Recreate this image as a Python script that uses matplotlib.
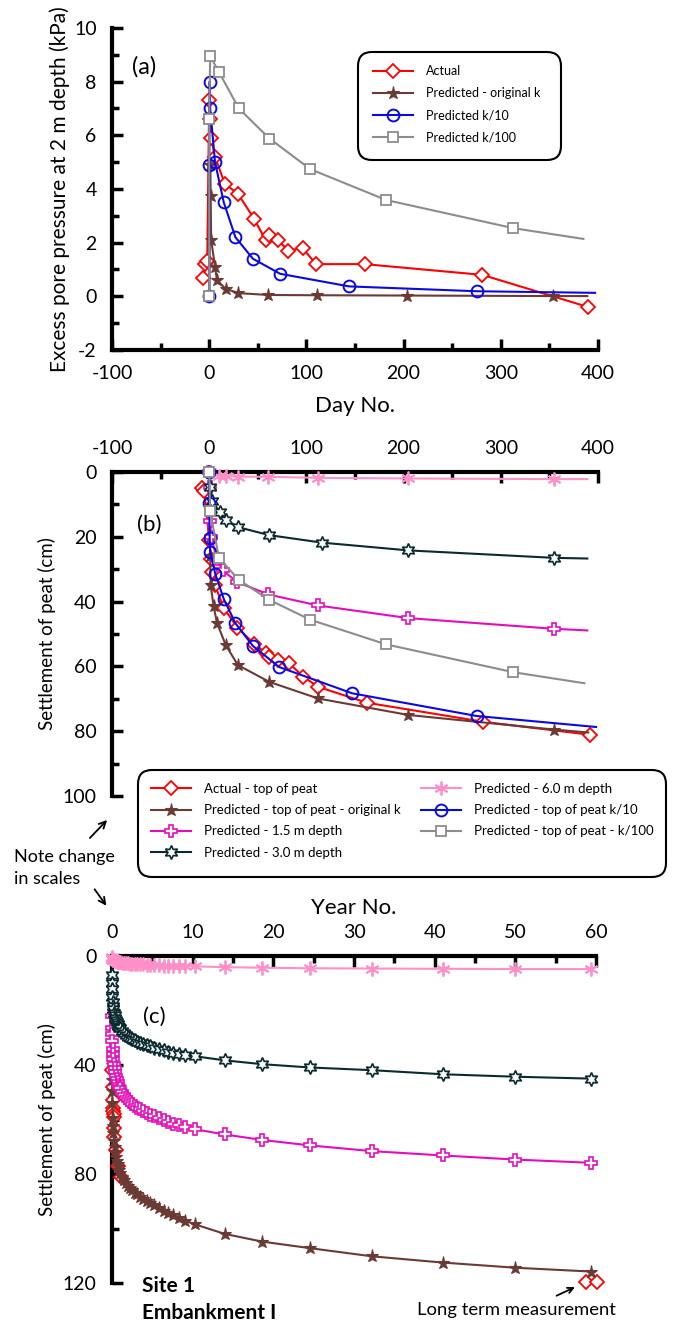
import numpy as np
import matplotlib
matplotlib.use("Agg")
import matplotlib.pyplot as plt
from matplotlib.patches import FancyBboxPatch, FancyArrowPatch
from matplotlib.ticker import MultipleLocator

plt.rcParams["font.family"] = ["Lato", "DejaVu Sans"]
plt.rcParams["axes.unicode_minus"] = False

W, H = 675, 1324

# ---------------- panel (a): excess pore pressure at 2 m depth ----------------
a_act_day = [-6, -4, -2, 0, 1, 2, 6, 16, 30, 46, 58, 62, 71, 81, 96, 110, 160, 281, 390]
a_act_u = [0.7, 1.2, 1.3, 7.3, 6.6, 5.9, 5.2, 4.2, 3.8, 2.9, 2.1, 2.3, 2.1, 1.7, 1.8, 1.2, 1.2, 0.8, -0.4]

# last point of each predicted series is the line end (no marker)
a_k_day = [0, 1, 1.5, 2, 6, 8, 17, 30, 61, 111, 204, 354, 389]
a_k_u = [0, 4.9, 3.75, 2.1, 1.1, 0.6, 0.28, 0.12, 0.05, 0.04, 0.03, 0.01, 0.01]
a_k10_day = [0, 0, 0.5, 1, 6, 15, 27, 45, 73, 144, 275, 397]
a_k10_u = [0, 4.9, 8.0, 7.0, 5.0, 3.5, 2.2, 1.4, 0.84, 0.37, 0.19, 0.13]
a_k100_day = [0, 0, 1, 10, 30.5, 62, 104, 182, 313, 385]
a_k100_u = [0, 6.6, 8.95, 8.36, 7.0, 5.88, 4.74, 3.59, 2.54, 2.14]

# ---------------- panel (b): settlement, first 400 days ----------------
b_act_day = [-7, -5, 0, 2, 3, 6, 15, 29, 46, 58, 62, 71, 82, 97, 112, 162, 282, 392]
b_act_s = [4.8, 6.0, 21, 27, 31, 35, 42, 48, 53, 55.8, 57, 58, 59, 63.2, 66.3, 71.2, 77.1, 81.1]

b_k_day = [0, 0.5, 1, 1.5, 4.6, 8, 17, 29.5, 62, 112, 205, 355, 390]
b_k_s = [0, 20, 26, 35, 41.5, 46.6, 53.4, 59.6, 64.8, 69.9, 75.0, 79.5, 80.4]
b_15_day = [0, 0.5, 1, 2, 8, 14, 29, 61, 112, 205, 355, 389]
b_15_s = [0, 4.5, 15, 20, 27, 30.4, 34, 37.8, 41.2, 45.1, 48.4, 48.9]
b_30_day = [0, 1, 3, 10.6, 17, 29.4, 62, 116, 205, 355, 389]
b_30_s = [0, 4.5, 9, 12.2, 14.8, 17, 19.5, 21.8, 24.2, 26.5, 26.7]
b_60_day = [1, 10, 17, 30, 61, 112, 205, 355, 389]
b_60_s = [0, 1.2, 1.3, 1.4, 1.5, 1.8, 2.0, 2.2, 2.2]
b_k10_day = [0, 0, 0.5, 1, 6.4, 15, 27, 45, 72, 147, 275, 398]
b_k10_s = [0, 9.6, 20.5, 24.7, 31.6, 39.2, 46.7, 53.7, 60.2, 68.3, 75.3, 78.7]
b_k100_day = [0, 1, 10, 30.5, 62, 104, 182, 313, 386]
b_k100_s = [0, 12, 26.5, 33.3, 39.5, 45.6, 53.2, 61.8, 65.2]

# ---------------- panel (c): settlement, 60 years ----------------
c_year = [0.01, 0.02, 0.03, 0.05, 0.08, 0.12, 0.17, 0.25, 0.32, 0.4, 0.5, 0.6, 0.7, 0.8,
          0.9, 1.0, 1.2, 1.45, 1.7, 2.0, 2.25, 2.5, 2.8, 3.1, 3.5, 3.9, 4.3, 4.75, 5.2,
          5.8, 6.4, 7.0, 7.6, 8.3, 9.1, 10.3, 14, 18.6, 24.5, 32.2, 41, 50, 59.4]
c_k_s = [40, 45.5, 49.5, 54, 59.5, 62.5, 64.8, 68, 70, 71.8, 73.8, 75.3, 76.5, 77.5,
         78.5, 79.6, 81, 82.3, 83.3, 84.5, 85.3, 86, 86.8, 87.5, 88.4, 89.2, 90, 90.8, 91.5,
         92.5, 93.4, 94.3, 95.1, 96.1, 97.1, 98.5, 102, 104.8, 107.2, 110.2, 112.5, 114.4, 115.8]
c_15_s = [22, 26.5, 28.8, 31.3, 34, 36, 37.8, 39.8, 41.2, 42.4, 44, 45.2, 46.2, 47.2,
          48, 48.6, 49.8, 51, 52, 53, 53.6, 54.3, 55, 55.6, 56.2, 56.8, 57.5, 58.2, 58.8,
          59.5, 60.2, 60.9, 61.5, 62.1, 62.7, 63.6, 65.5, 67.5, 69.5, 71.6, 73.2, 74.7, 75.9]
c_30_s = [7, 10, 12.2, 15, 17, 18.5, 19.5, 20.8, 21.8, 22.6, 23.6, 24.4, 25, 25.6,
          26.1, 26.6, 27.5, 28.3, 29, 29.6, 30.1, 30.5, 31, 31.4, 31.8, 32.2, 32.7, 33.1, 33.6,
          34.1, 34.6, 35.1, 35.5, 36, 36.3, 36.8, 38.3, 39.7, 40.9, 41.9, 43.4, 44.3, 45.0]
c_60_s = [0.5, 0.8, 1.0, 1.2, 1.3, 1.4, 1.5, 1.6, 1.8, 1.9, 2.0, 2.1, 2.1, 2.2,
          2.2, 2.3, 2.4, 2.5, 2.6, 2.7, 2.8, 2.8, 2.9, 3.0, 3.0, 3.1, 3.2, 3.3, 3.3,
          3.4, 3.5, 3.5, 3.6, 3.7, 3.7, 3.8, 4.1, 4.3, 4.5, 4.6, 4.7, 4.8, 4.8]
c_long_year = [58.7, 60.1]
c_long_s = [119.5, 119.5]

RED = "#ff0000"
BROWN = "#6b3a34"
BLUE = "#0a0ae0"
GRAY = "#8c8c8c"
MAGENTA = "#e60cba"
TEAL = "#0b2a30"
PINK = "#ff8fc8"

STYLE = {
    "act": dict(color=RED, marker="D", ms=7, mfc="white", mew=1.3, lw=1.5),
    "k": dict(color=BROWN, marker="*", ms=9.5, mfc=BROWN, mew=0.8, lw=1.5),
    "k10": dict(color=BLUE, marker="o", ms=8.5, mfc="none", mew=1.4, lw=1.5),
    "k100": dict(color=GRAY, marker="s", ms=7.5, mfc="white", mew=1.3, lw=1.5),
    "m15": dict(color=MAGENTA, marker="P", ms=9, mfc="white", mew=1.2, lw=1.5),
    "m30": dict(color=TEAL, marker=(6, 1, 0), ms=10, mfc="white", mew=1.2, lw=1.5),
    "m60": dict(color=PINK, marker=(6, 2, 0), ms=10, mfc=PINK, mew=1.3, lw=1.5),
}


def fig_rect(x0, x1, y_top, y_bot):
    return [x0 / W, 1 - y_bot / H, (x1 - x0) / W, (y_bot - y_top) / H]


def style_axis(ax, sides):
    for s in ["left", "right", "top", "bottom"]:
        ax.spines[s].set_visible(s in sides)
        ax.spines[s].set_linewidth(3)
        ax.spines[s].set_zorder(1)
    ax.tick_params(which="major", direction="in", length=8, width=2.5, labelsize=14, pad=11)
    ax.tick_params(which="minor", direction="in", length=5, width=2.5)


def plot_series(ax, x, y, key, last_marked=True, **kw):
    n = len(x)
    every = slice(0, n) if last_marked else slice(0, n - 1)
    return ax.plot(x, y, markevery=every, zorder=3, clip_on=False, **STYLE[key], **kw)[0]


def legend_box(x0, y0, x1, y1):
    # rounded frame drawn in pixel units (y from top)
    box = FancyBboxPatch((x0 / 100, (H - y1) / 100), (x1 - x0) / 100, (y1 - y0) / 100,
                         boxstyle="round,pad=0,rounding_size=0.14",
                         transform=fig.dpi_scale_trans, fc="white", ec="black", lw=1.5,
                         zorder=4)
    fig.add_artist(box)


fig = plt.figure(figsize=(W / 100, H / 100), dpi=100)

# ---- (a)
ax_a = fig.add_axes(fig_rect(112, 598, 28, 350))
la = plot_series(ax_a, a_act_day, a_act_u, "act", label="Actual")
lk = plot_series(ax_a, a_k_day, a_k_u, "k", False, label="Predicted - original k")
l10 = plot_series(ax_a, a_k10_day, a_k10_u, "k10", False, label="Predicted k/10")
l100 = plot_series(ax_a, a_k100_day, a_k100_u, "k100", False, label="Predicted k/100")
ax_a.set_xlim(-100, 400)
ax_a.set_ylim(-2, 10)
style_axis(ax_a, ["left", "bottom"])
ax_a.xaxis.set_major_locator(MultipleLocator(100))
ax_a.xaxis.set_minor_locator(MultipleLocator(50))
ax_a.yaxis.set_major_locator(MultipleLocator(2))
ax_a.yaxis.set_minor_locator(MultipleLocator(1))
ax_a.set_xlabel("Day No.", fontsize=16, labelpad=10)
ax_a.set_ylabel("Excess pore pressure at 2 m depth (kPa)", fontsize=15, labelpad=3)
ax_a.text(-79, 8.55, "(a)", fontsize=17, va="center")

legend_box(358, 52, 561, 160)
leg_a = fig.legend(handles=[la, lk, l10, l100], loc="upper left",
                   bbox_to_anchor=(373 / W, 1 - 65 / H), fontsize=9, handlelength=3.2,
                   labelspacing=0.81, borderpad=0, borderaxespad=0, handletextpad=1.0,
                   frameon=False)
leg_a.set_zorder(5)

# ---- (b)
ax_b = fig.add_axes(fig_rect(112, 598, 472, 796))
hb = []
hb.append(plot_series(ax_b, b_act_day, b_act_s, "act", label="Actual - top of peat"))
hb.append(plot_series(ax_b, b_k_day, b_k_s, "k", False, label="Predicted - top of peat - original k"))
hb.append(plot_series(ax_b, b_15_day, b_15_s, "m15", False, label="Predicted - 1.5 m depth"))
hb.append(plot_series(ax_b, b_30_day, b_30_s, "m30", False, label="Predicted - 3.0 m depth"))
hb.append(plot_series(ax_b, b_60_day, b_60_s, "m60", False, label="Predicted - 6.0 m depth"))
hb.append(plot_series(ax_b, b_k10_day, b_k10_s, "k10", False, label="Predicted - top of peat k/10"))
hb.append(plot_series(ax_b, b_k100_day, b_k100_s, "k100", False, label="Predicted - top of peat - k/100"))
ax_b.set_xlim(-100, 400)
ax_b.set_ylim(100, 0)
style_axis(ax_b, ["left", "top"])
ax_b.xaxis.tick_top()
ax_b.xaxis.set_major_locator(MultipleLocator(100))
ax_b.xaxis.set_minor_locator(MultipleLocator(50))
ax_b.yaxis.set_major_locator(MultipleLocator(20))
ax_b.yaxis.set_minor_locator(MultipleLocator(10))
ax_b.set_ylabel("Settlement of peat (cm)", fontsize=13.5, labelpad=5)
ax_b.text(-74, 16.4, "(b)", fontsize=16, va="center")

legend_box(138, 770, 666, 877)
leg_b = fig.legend(handles=hb, loc="upper left", ncol=2,
                   bbox_to_anchor=(151 / W, 1 - 783 / H), fontsize=9.5, handlelength=3.0,
                   labelspacing=0.7, borderpad=0, borderaxespad=0, handletextpad=1.05,
                   columnspacing=1.5, frameon=False)
leg_b.set_zorder(5)

fig.text(14 / W, 1 - 857 / H, "Note change", fontsize=13, va="center")
fig.text(14 / W, 1 - 879 / H, "in scales", fontsize=13, va="center")
fig.add_artist(FancyArrowPatch(
    (88 / W, 1 - 840 / H), (109 / W, 1 - 818 / H), transform=fig.transFigure,
    arrowstyle="->", mutation_scale=12, lw=1.3, color="black"))
fig.add_artist(FancyArrowPatch(
    (93 / W, 1 - 887 / H), (108 / W, 1 - 908 / H), transform=fig.transFigure,
    arrowstyle="->", mutation_scale=12, lw=1.3, color="black"))

# ---- (c)
ax_c = fig.add_axes(fig_rect(112, 596, 956, 1283))
c_act_year = np.array(b_act_day[6:]) / 365.0
plot_series(ax_c, c_act_year, b_act_s[6:], "act")
ax_c.plot(c_long_year, c_long_s, ls="none", zorder=3, clip_on=False,
          **{k: v for k, v in STYLE["act"].items() if k != "lw"})
plot_series(ax_c, c_year, c_k_s, "k")
plot_series(ax_c, c_year, c_15_s, "m15")
plot_series(ax_c, c_year, c_30_s, "m30")
plot_series(ax_c, c_year, c_60_s, "m60")
ax_c.set_xlim(0, 60)
ax_c.set_ylim(120, 0)
style_axis(ax_c, ["left", "top"])
ax_c.xaxis.tick_top()
ax_c.xaxis.set_label_position("top")
ax_c.xaxis.set_major_locator(MultipleLocator(10))
ax_c.xaxis.set_minor_locator(MultipleLocator(5))
ax_c.yaxis.set_major_locator(MultipleLocator(40))
ax_c.yaxis.set_minor_locator(MultipleLocator(20))
ax_c.set_xlabel("Year No.", fontsize=16, labelpad=7)
ax_c.set_ylabel("Settlement of peat (cm)", fontsize=13.5, labelpad=5)
ax_c.text(3.8, 22.4, "(c)", fontsize=16, va="center")
ax_c.text(3.7, 121.1, "Site 1", fontsize=15, fontweight="bold", va="center", clip_on=False)
ax_c.text(3.7, 131, "Embankment I", fontsize=15, fontweight="bold", va="center", clip_on=False)
ax_c.annotate("", xy=(57.7, 121.1), xytext=(54.8, 125.1), annotation_clip=False,
              arrowprops=dict(arrowstyle="->", lw=1.3, color="black"))
ax_c.text(50.1, 129.9, "Long term measurement", fontsize=13.3, ha="center", va="center")

fig.savefig("out.png", dpi=100)
